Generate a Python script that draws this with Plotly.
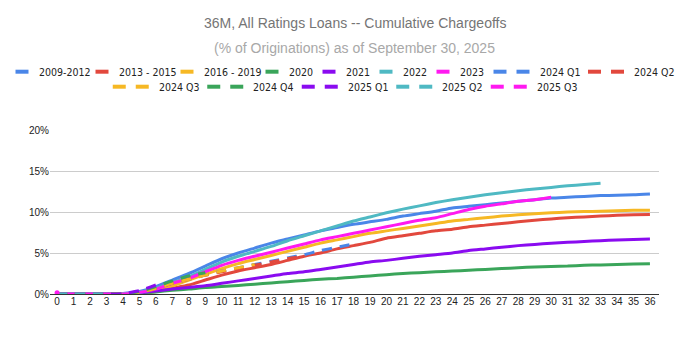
import plotly.graph_objects as go

# Months since origination
months = list(range(0, 37))

# Cumulative chargeoffs (% of originations) by vintage
v_2009_2012 = [0, 0, 0, 0, 0.05, 0.3, 0.9, 1.7, 2.5, 3.4, 4.3, 5.0, 5.6, 6.2, 6.7, 7.2, 7.7, 8.1,
               8.5, 8.8, 9.1, 9.5, 9.8, 10.1, 10.5, 10.7, 10.9, 11.1, 11.3, 11.5, 11.7, 11.8,
               11.9, 12.0, 12.05, 12.1, 12.2]
v_2013_2015 = [0, 0, 0, 0, 0, 0.05, 0.3, 0.7, 1.1, 1.7, 2.3, 2.8, 3.2, 3.6, 4.1, 4.6, 5.0, 5.5,
               5.9, 6.3, 6.8, 7.1, 7.4, 7.7, 7.9, 8.2, 8.4, 8.6, 8.8, 9.0, 9.15, 9.3, 9.4,
               9.5, 9.6, 9.65, 9.7]
v_2016_2019 = [0, 0, 0, 0, 0, 0.1, 0.4, 1.0, 1.7, 2.4, 3.1, 3.7, 4.2, 4.7, 5.2, 5.7, 6.2, 6.6,
               7.0, 7.4, 7.7, 8.0, 8.3, 8.6, 8.9, 9.1, 9.3, 9.5, 9.65, 9.8, 9.9, 10.0, 10.05,
               10.1, 10.15, 10.2, 10.2]
v_2020 = [0, 0, 0, 0, 0, 0.1, 0.25, 0.45, 0.6, 0.8, 0.9, 1.05, 1.2, 1.35, 1.5, 1.65, 1.8, 1.9,
          2.05, 2.2, 2.35, 2.5, 2.6, 2.7, 2.8, 2.9, 3.0, 3.1, 3.2, 3.3, 3.35, 3.4, 3.5, 3.55,
          3.6, 3.65, 3.7]
v_2021 = [0, 0, 0, 0, 0.05, 0.15, 0.35, 0.6, 0.8, 1.0, 1.3, 1.6, 1.9, 2.2, 2.5, 2.7, 3.0, 3.3,
          3.6, 3.9, 4.1, 4.35, 4.6, 4.8, 5.0, 5.3, 5.5, 5.7, 5.9, 6.05, 6.2, 6.3, 6.4, 6.5,
          6.6, 6.65, 6.7]
v_2022 = [0, 0, 0, 0, 0.05, 0.2, 0.7, 1.4, 2.1, 3.0, 3.9, 4.6, 5.2, 5.8, 6.5, 7.1, 7.7, 8.3,
          8.9, 9.4, 9.9, 10.35, 10.75, 11.15, 11.5, 11.8, 12.1, 12.35, 12.6, 12.8, 13.0, 13.2,
          13.35, 13.5]
v_2023 = [0, 0, 0, 0, 0, 0.2, 0.6, 1.3, 1.9, 2.7, 3.5, 4.1, 4.6, 5.1, 5.6, 6.1, 6.6, 7.0, 7.4,
          7.8, 8.2, 8.6, 9.0, 9.3, 9.8, 10.3, 10.7, 11.0, 11.3, 11.5, 11.8]
v_2024_q1 = [0, 0, 0, 0, 0, 0.2, 0.7, 1.3, 1.8, 2.3, 2.8, 3.2, 3.6, 4.0, 4.4, 4.8, 5.3, 5.7, 6.1]
v_2024_q2 = [0, 0, 0, 0, 0, 0.2, 0.7, 1.3, 1.8, 2.3, 2.7, 3.1, 3.5, 3.9, 4.3, 4.6]
v_2024_q3 = [0, 0, 0, 0, 0, 0.2, 0.7, 1.3, 1.8, 2.3, 2.8, 3.2, 3.6]
v_2024_q4 = [0, 0, 0, 0, 0, 0.3, 0.9, 1.6, 2.2, 2.6]
v_2025_q1 = [0, 0, 0, 0, 0.05, 0.4, 1.1]
v_2025_q2 = [0, 0, 0, 0]
v_2025_q3 = [0.15]

vintages = [
    ("2009-2012", v_2009_2012, "#4A86E8", False),
    ("2013 - 2015", v_2013_2015, "#E2483D", False),
    ("2016 - 2019", v_2016_2019, "#F6B824", False),
    ("2020", v_2020, "#3AA55A", False),
    ("2021", v_2021, "#8A0BF0", False),
    ("2022", v_2022, "#4FB9C3", False),
    ("2023", v_2023, "#FF19F0", False),
    ("2024 Q1", v_2024_q1, "#4A86E8", True),
    ("2024 Q2", v_2024_q2, "#E2483D", True),
    ("2024 Q3", v_2024_q3, "#F6B824", True),
    ("2024 Q4", v_2024_q4, "#3AA55A", True),
    ("2025 Q1", v_2025_q1, "#8A0BF0", True),
    ("2025 Q2", v_2025_q2, "#4FB9C3", True),
    ("2025 Q3", v_2025_q3, "#FF19F0", True),
]
legend_rows = [9, 5]  # entries per legend row

FONT = "Liberation Sans, Arial, sans-serif"
NARROW = "Liberation Sans Narrow, Arial Narrow, DejaVu Sans Condensed, Liberation Sans, sans-serif"
W, H = 682, 337
M_L, M_R, M_T, M_B = 50, 23, 130, 43
PW, PH = W - M_L - M_R, H - M_T - M_B

def px_x(px):
    return (px - M_L) / PW

def px_y(py):
    return (H - M_B - py) / PH

fig = go.Figure()
for name, vals, color, dashed in vintages:
    single = len(vals) == 1
    fig.add_trace(go.Scatter(
        x=months[:len(vals)], y=vals, name=name, showlegend=False,
        mode="lines+markers" if single else "lines",
        line=dict(color=color, width=3, dash="10px,8px" if dashed else "solid",
                  shape="spline", smoothing=0.6),
        marker=dict(size=5, color=color),
    ))

# Legend: short swatches (two for quarterly vintages) followed by a label
CHAR_W = {d: 5.0 for d in "0123456789"}
CHAR_W.update({" ": 2.5, "-": 3.0, "Q": 7.0})
SW, SW_GAP, TXT_GAP, ITEM_GAP = 13, 10, 8, 16

def text_w(s):
    return sum(CHAR_W.get(c, 5.0) for c in s)

shapes, annotations = [], []
row_y = [71.7, 86.7]
start = 0
for r, count in enumerate(legend_rows):
    entries = vintages[start:start + count]
    start += count
    widths = []
    for name, _, _, dashed in entries:
        sw = SW * 2 + SW_GAP if dashed else SW
        widths.append(sw + TXT_GAP + text_w(name))
    total = sum(widths) + ITEM_GAP * (len(entries) - 1)
    x = W / 2 - total / 2
    y = px_y(row_y[r])
    for (name, _, color, dashed), w in zip(entries, widths):
        segs = [x] if not dashed else [x, x + SW + SW_GAP]
        for s in segs:
            shapes.append(dict(type="line", xref="paper", yref="paper",
                               x0=px_x(s), x1=px_x(s + SW), y0=y, y1=y,
                               line=dict(color=color, width=4)))
        tx = segs[-1] + SW + TXT_GAP
        annotations.append(dict(text=name, xref="paper", yref="paper", x=px_x(tx), y=y,
                                xanchor="left", yanchor="middle", showarrow=False,
                                font=dict(size=10.5, color="#222", family=NARROW)))
        x += w + ITEM_GAP

annotations += [
    dict(text="36M, All Ratings Loans -- Cumulative Chargeoffs", xref="paper", yref="paper",
         x=0.5, y=px_y(22.5), xanchor="center", yanchor="middle",
         showarrow=False, font=dict(size=14, color="#757575", family=FONT)),
    dict(text="(% of Originations) as of September 30, 2025", xref="paper", yref="paper",
         x=0.5, y=px_y(47.5), xanchor="center", yanchor="middle",
         showarrow=False, font=dict(size=14, color="#A8A8A8", family=FONT)),
]

fig.update_layout(
    width=W, height=H,
    margin=dict(l=M_L, r=M_R, t=M_T, b=M_B),
    paper_bgcolor="white", plot_bgcolor="white",
    font=dict(family=FONT, size=10, color="#222"),
    showlegend=False,
    shapes=shapes,
    annotations=annotations,
)

fig.update_xaxes(
    range=[-0.43, 36.55], tickmode="array", tickvals=months,
    ticktext=[str(m) for m in months], showgrid=False, zeroline=False,
    showline=False, ticks="", tickfont=dict(size=10, color="#222"),
)
fig.update_yaxes(
    range=[0, 20], tickvals=[0, 5, 10, 15, 20],
    ticktext=["0%", "5%", "10%", "15%", "20%"],
    showgrid=True, gridcolor="#CCCCCC", gridwidth=1,
    zeroline=True, zerolinecolor="#333333", zerolinewidth=1,
    showline=False, ticks="", tickfont=dict(size=10, color="#222"),
)

fig.write_html("out.html")
